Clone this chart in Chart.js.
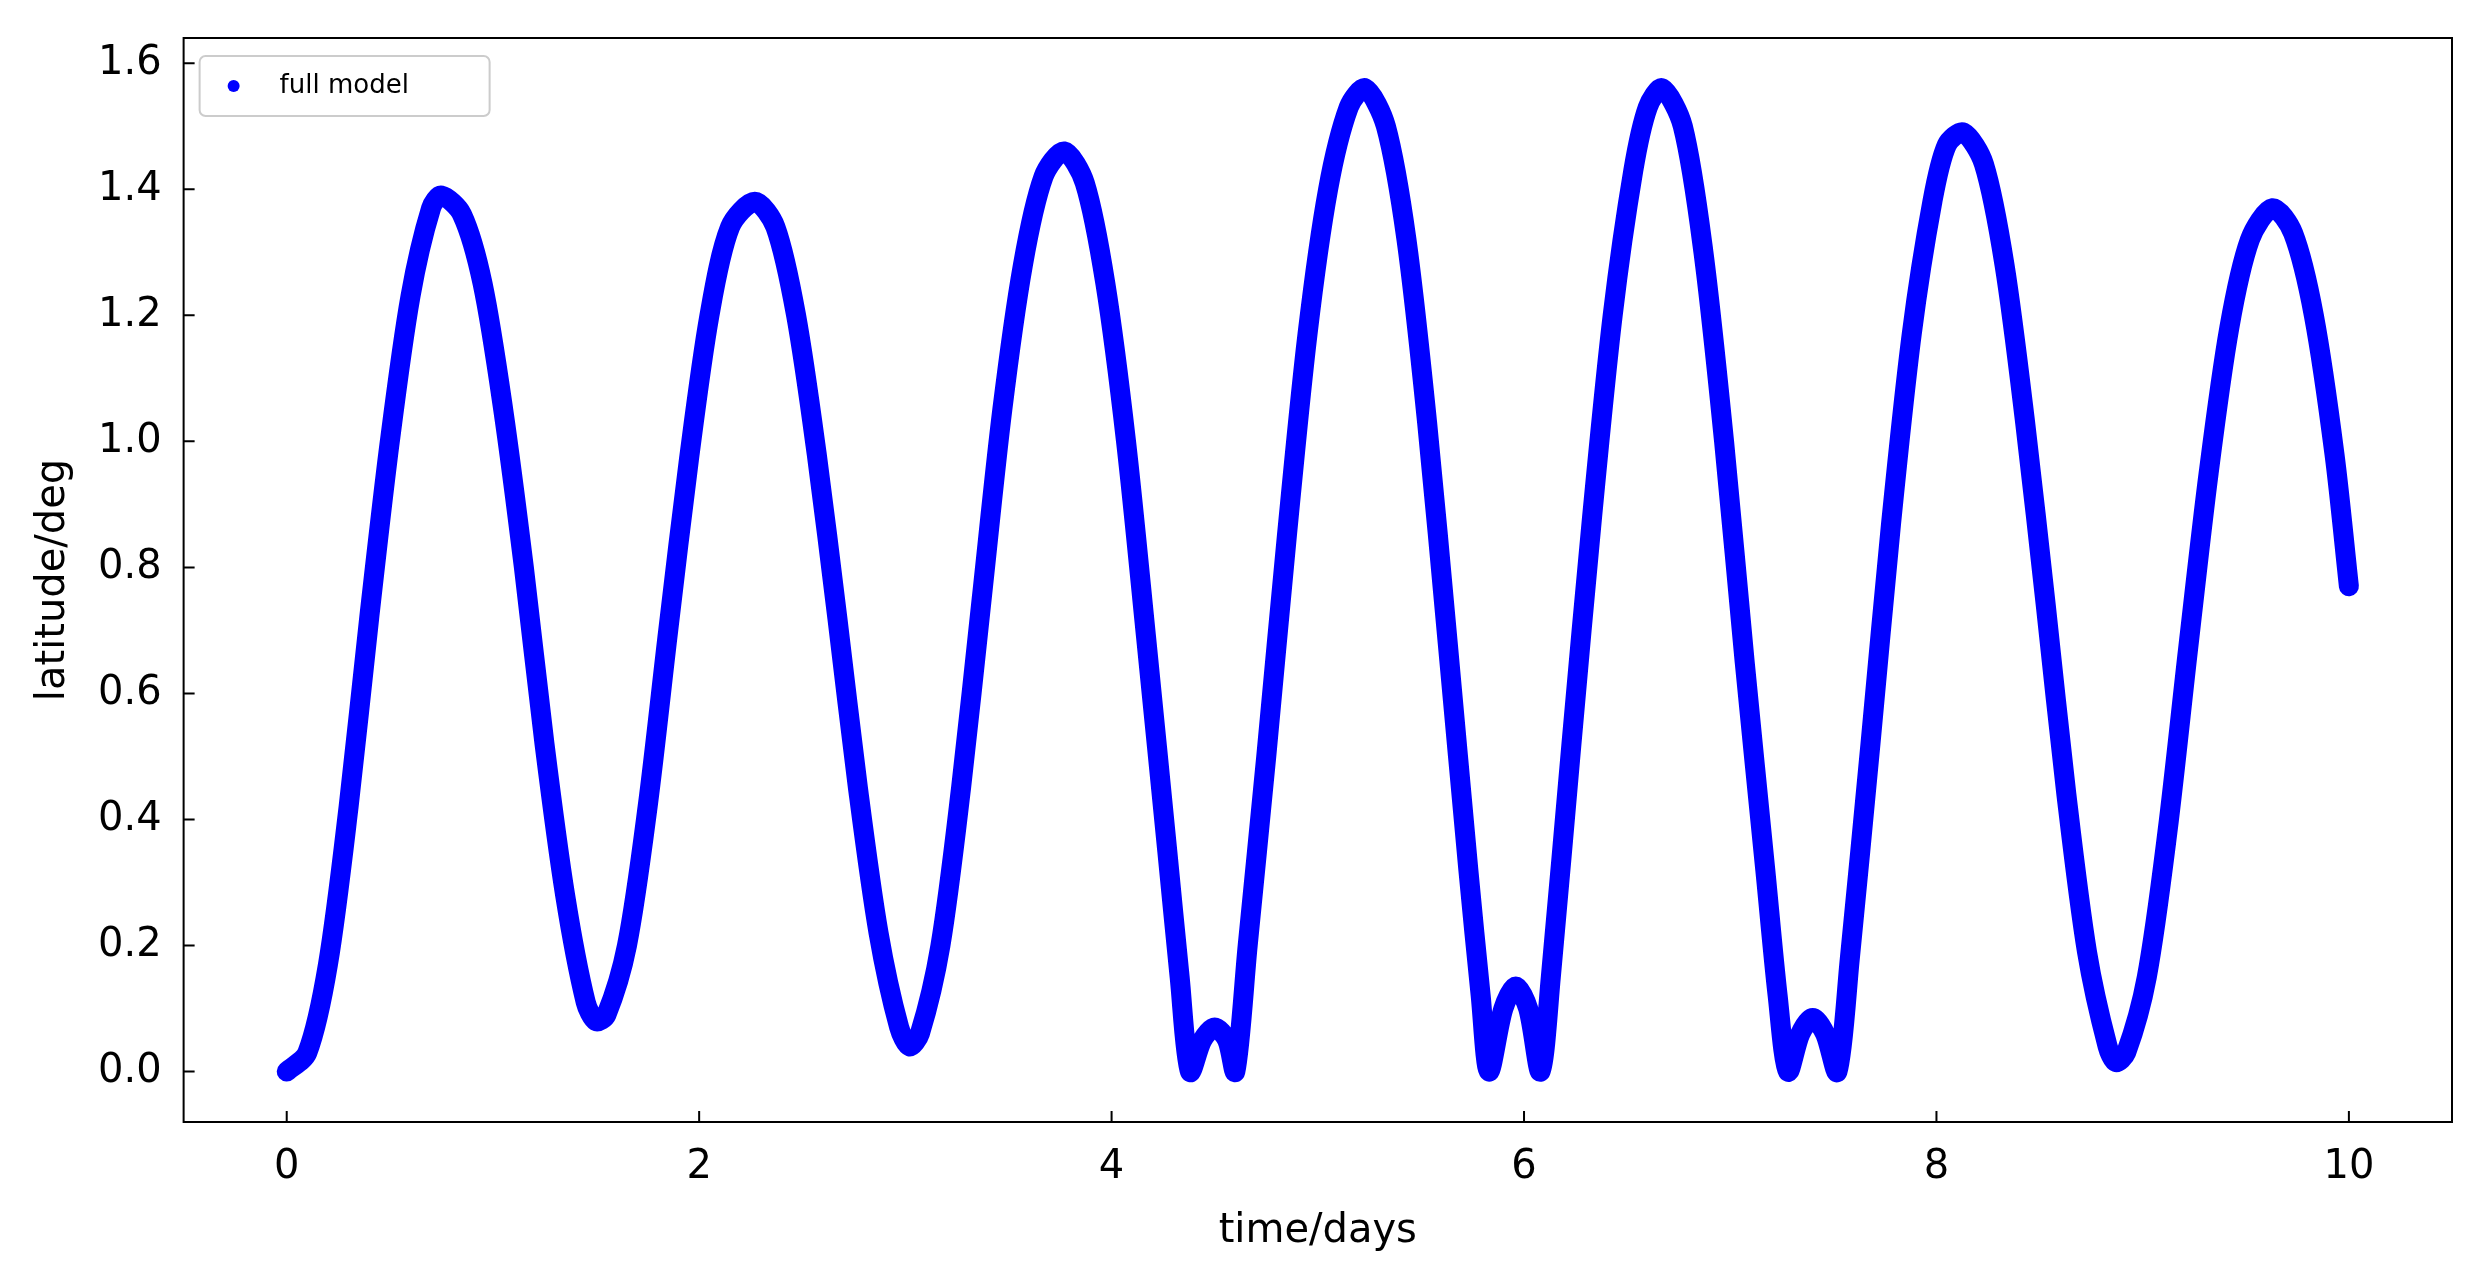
<!DOCTYPE html>
<html>
<head>
<meta charset="utf-8">
<script src="https://cdn.jsdelivr.net/npm/chart.js@4/dist/chart.umd.min.js"></script>
<style>
  html, body { margin: 0; background: #fff; }
  #wrap { width: 2476px; height: 1276px; }
</style>
</head>
<body>
<div id="wrap"><canvas id="c"></canvas></div>
<script>
// Values (time in days, latitude in deg)
const times = [0, 0.1, 0.2, 0.3, 0.4, 0.5, 0.6, 0.7, 0.75, 0.85, 0.95, 1.05, 1.15, 1.25, 1.35, 1.45, 1.5, 1.55, 1.65, 1.75, 1.85, 1.95, 2.05, 2.15, 2.27, 2.37, 2.47, 2.57, 2.67, 2.77, 2.87, 2.97, 3.02, 3.07, 3.17, 3.27, 3.37, 3.47, 3.57, 3.67, 3.77, 3.87, 3.97, 4.07, 4.17, 4.27, 4.33, 4.38, 4.44, 4.5, 4.56, 4.6, 4.66, 4.75, 4.85, 4.95, 5.05, 5.15, 5.23, 5.33, 5.43, 5.53, 5.63, 5.73, 5.79, 5.83, 5.9, 5.96, 6.02, 6.08, 6.13, 6.23, 6.33, 6.43, 6.53, 6.6, 6.67, 6.77, 6.87, 6.97, 7.07, 7.17, 7.23, 7.28, 7.34, 7.4, 7.46, 7.52, 7.58, 7.68, 7.78, 7.88, 7.98, 8.05, 8.13, 8.23, 8.33, 8.43, 8.53, 8.63, 8.73, 8.83, 8.87, 8.92, 9.02, 9.12, 9.22, 9.32, 9.42, 9.52, 9.63, 9.73, 9.83, 9.93, 10];
const latitude = [0, 0.03, 0.17, 0.42, 0.72, 1.0, 1.23, 1.37, 1.39, 1.36, 1.25, 1.05, 0.8, 0.52, 0.28, 0.11, 0.08, 0.09, 0.2, 0.42, 0.7, 0.97, 1.2, 1.34, 1.38, 1.34, 1.2, 0.98, 0.72, 0.45, 0.22, 0.07, 0.04, 0.06, 0.2, 0.45, 0.75, 1.05, 1.28, 1.42, 1.46, 1.41, 1.25, 1.0, 0.68, 0.35, 0.15, 0.0, 0.05, 0.07, 0.05, 0.0, 0.2, 0.5, 0.85, 1.17, 1.4, 1.53, 1.56, 1.5, 1.32, 1.03, 0.68, 0.32, 0.12, 0.0, 0.1, 0.135, 0.1, 0.0, 0.15, 0.52, 0.88, 1.2, 1.43, 1.53, 1.56, 1.5, 1.3, 1.0, 0.65, 0.32, 0.12, 0.0, 0.06, 0.085, 0.06, 0.0, 0.18, 0.52, 0.87, 1.17, 1.38, 1.47, 1.49, 1.44, 1.28, 1.03, 0.74, 0.44, 0.19, 0.04, 0.015, 0.03, 0.15, 0.38, 0.67, 0.95, 1.18, 1.32, 1.37, 1.33, 1.2, 0.98, 0.77];
const xTicks = [0, 2, 4, 6, 8, 10];
const yTicks = [0.0, 0.2, 0.4, 0.6, 0.8, 1.0, 1.2, 1.4, 1.6];
const seriesLabel = 'full model';

const points = times.map((t, i) => ({ x: t, y: latitude[i] }));

// inward ticks, full frame and legend box, matplotlib style
const frame = {
  id: 'frame',
  afterDraw(chart) {
    const { ctx, chartArea: a, scales } = chart;
    ctx.save();
    ctx.strokeStyle = '#000';
    ctx.lineWidth = 2;
    ctx.strokeRect(a.left, a.top, a.right - a.left, a.bottom - a.top);
    ctx.beginPath();
    xTicks.forEach(v => {
      const px = scales.x.getPixelForValue(v);
      ctx.moveTo(px, a.bottom); ctx.lineTo(px, a.bottom - 11);
    });
    yTicks.forEach(v => {
      const py = scales.y.getPixelForValue(v);
      ctx.moveTo(a.left, py); ctx.lineTo(a.left + 11, py);
    });
    ctx.stroke();
    // legend
    const lx = a.left + 16, ly = a.top + 18;
    ctx.fillStyle = '#fff';
    ctx.strokeStyle = '#ccc';
    ctx.beginPath();
    ctx.roundRect(lx, ly, 290, 60, 6);
    ctx.fill();
    ctx.stroke();
    ctx.fillStyle = '#0000ff';
    ctx.beginPath();
    ctx.arc(lx + 34, ly + 30, 6, 0, Math.PI * 2);
    ctx.fill();
    ctx.fillStyle = '#000';
    ctx.font = '26px "DejaVu Sans"';
    ctx.textBaseline = 'middle';
    ctx.fillText(seriesLabel, lx + 80, ly + 30);
    ctx.restore();
  }
};

new Chart(document.getElementById('c'), {
  type: 'line',
  data: {
    datasets: [{
      label: seriesLabel,
      data: points,
      borderColor: '#0000ff',
      backgroundColor: '#0000ff',
      borderWidth: 20,
      borderCapStyle: 'round',
      borderJoinStyle: 'round',
      tension: 0.3,
      pointRadius: 0
    }]
  },
  options: {
    responsive: true,
    maintainAspectRatio: false,
    animation: false,
    layout: { padding: { top: 8, right: 24, left: 26, bottom: 16 } },
    plugins: {
      tooltip: { enabled: false },
      legend: { display: false }
    },
    scales: {
      x: {
        type: 'linear',
        min: -0.5, max: 10.5,
        afterBuildTicks: s => { s.ticks = xTicks.map(v => ({ value: v })); },
        grid: { display: false },
        border: { display: false },
        ticks: { color: '#000', font: { family: 'DejaVu Sans', size: 40 }, padding: 14, callback: v => String(v) },
        title: { display: true, text: 'time/days', color: '#000', font: { family: 'DejaVu Sans', size: 40 }, padding: { top: 2 } }
      },
      y: {
        min: -0.08, max: 1.64,
        afterBuildTicks: s => { s.ticks = yTicks.map(v => ({ value: v })); },
        grid: { display: false },
        border: { display: false },
        ticks: { color: '#000', font: { family: 'DejaVu Sans', size: 40 }, padding: 14, callback: v => v.toFixed(1) },
        title: { display: true, text: 'latitude/deg', color: '#000', font: { family: 'DejaVu Sans', size: 40 }, padding: { bottom: 6 } }
      }
    }
  },
  plugins: [frame]
});
</script>
</body>
</html>
